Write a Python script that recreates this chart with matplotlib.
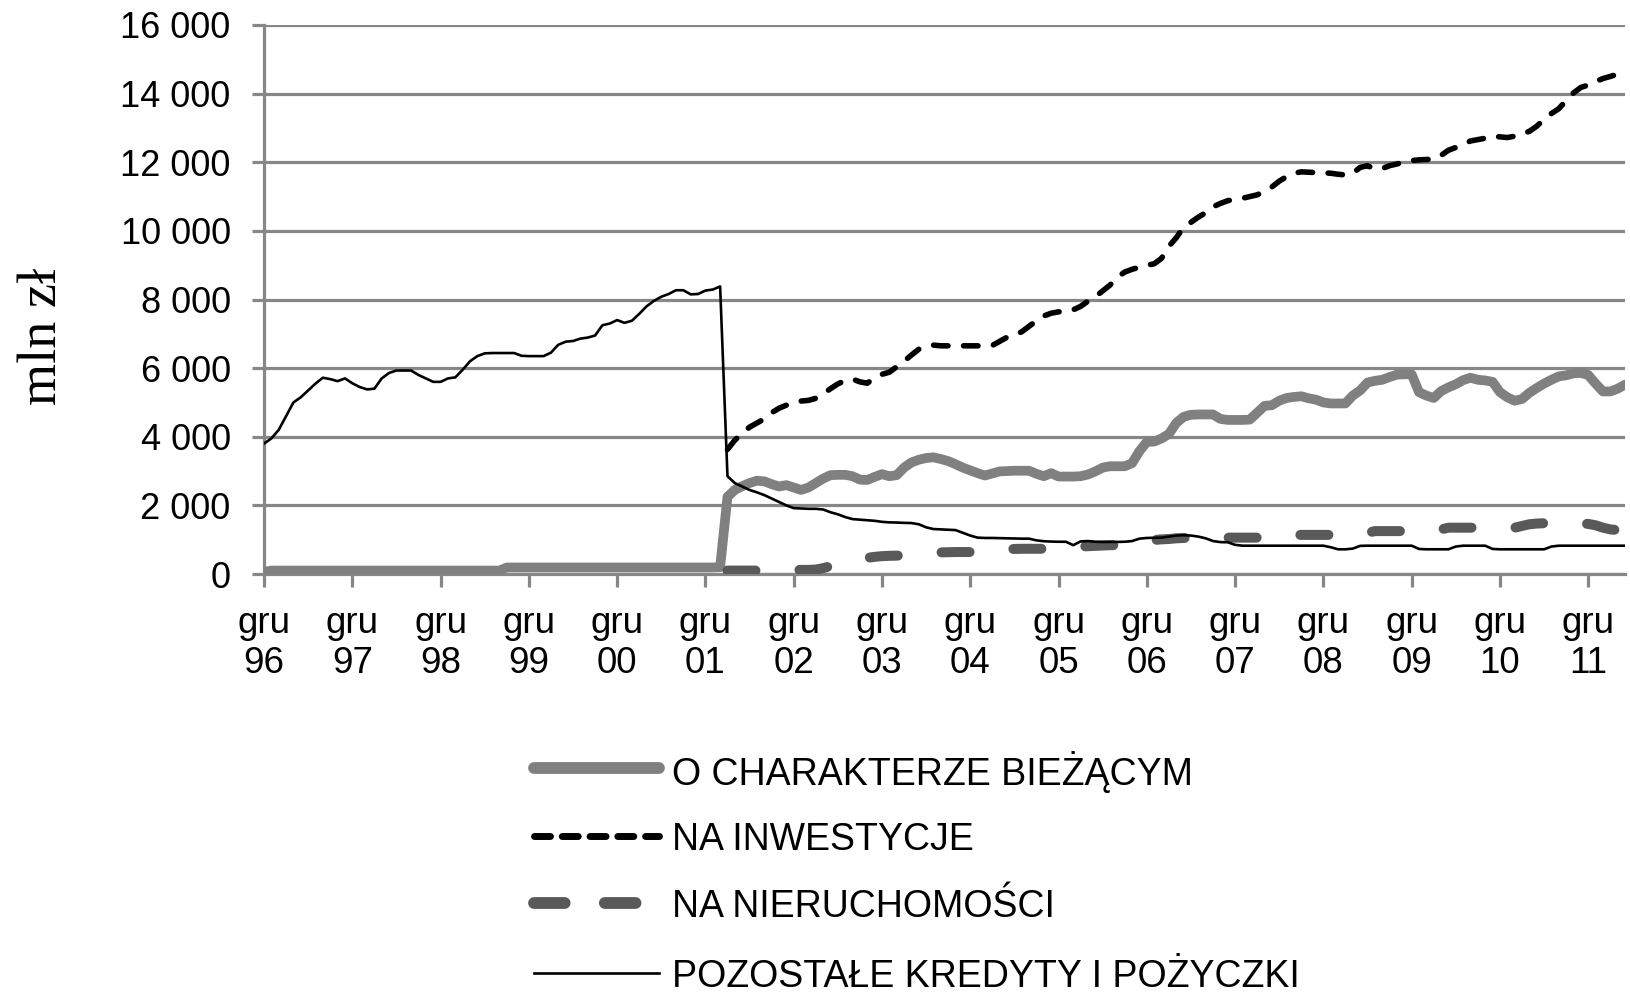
import numpy as np
import pandas as pd
import matplotlib
matplotlib.use("Agg")
import matplotlib.pyplot as plt
from matplotlib.lines import Line2D

# ---------------- data (mln zł, monthly, Dec 1996 .. May 2012) ----------------
months = pd.period_range("1996-12", "2012-05", freq="M")

pozostale = [
    3800, 3950, 4200, 4600, 5000, 5150, 5350, 5550, 5720, 5680, 5620, 5700,
    5560, 5450, 5380, 5400, 5700, 5860, 5930, 5930, 5930, 5800, 5700, 5600,
    5600, 5700, 5730, 5950, 6200, 6350, 6430, 6440, 6440, 6440, 6440, 6360,
    6350, 6350, 6350, 6450, 6680, 6770, 6790, 6860, 6890, 6950, 7250, 7300,
    7400, 7320, 7380, 7580, 7800, 7960, 8080, 8160, 8270, 8270, 8150, 8160,
    8260, 8290, 8380, 2850, 2650, 2550, 2450, 2380, 2300, 2200, 2100, 2000,
    1920, 1910, 1900, 1900, 1880, 1800, 1740, 1660, 1600, 1584, 1570, 1550,
    1520, 1505, 1500, 1490, 1485, 1450, 1360, 1310, 1300, 1290, 1280, 1200,
    1120, 1060, 1050, 1050, 1045, 1040, 1035, 1030, 1030, 980, 955, 945,
    940, 940, 840, 950, 960, 940, 935, 935, 935, 940, 960, 1030,
    1050, 1055, 1060, 1090, 1120, 1130, 1120, 1090, 1040, 960, 930, 925,
    850, 825, 825, 825, 825, 825, 825, 825, 825, 825, 825, 825,
    825, 780, 720, 720, 740, 820, 825, 825, 825, 825, 825, 825,
    825, 730, 720, 720, 720, 720, 800, 825, 825, 825, 825, 730,
    720, 720, 720, 720, 720, 720, 720, 800, 825, 825, 825, 825,
    825, 825, 825, 825, 825, 825,
]

biezacym = [
    60, 100, 100, 100, 100, 100, 100, 100, 100, 100, 100, 100,
    100, 100, 100, 100, 100, 100, 100, 100, 100, 100, 100, 100,
    100, 100, 100, 100, 100, 100, 100, 100, 100, 190, 190, 190,
    190, 190, 190, 190, 190, 190, 190, 190, 190, 190, 190, 190,
    190, 190, 190, 190, 190, 190, 190, 190, 190, 190, 190, 190,
    190, 190, 200, 2250, 2450, 2560, 2650, 2720, 2700, 2620, 2550, 2590,
    2520, 2450, 2520, 2650, 2780, 2880, 2890, 2890, 2850, 2750, 2740, 2830,
    2910, 2850, 2880, 3100, 3250, 3330, 3380, 3400, 3350, 3290, 3200, 3100,
    3020, 2940, 2870, 2930, 2990, 3000, 3010, 3010, 3010, 2920, 2850, 2940,
    2840, 2840, 2840, 2850, 2900, 2990, 3100, 3140, 3140, 3140, 3230, 3580,
    3850, 3860, 3950, 4080, 4400, 4580, 4640, 4650, 4650, 4650, 4520, 4490,
    4490, 4490, 4500, 4700, 4900, 4920, 5050, 5130, 5160, 5180, 5120, 5080,
    5000, 4970, 4970, 4970, 5200, 5350, 5580, 5630, 5660, 5740, 5810, 5820,
    5820, 5300, 5200, 5130, 5330, 5440, 5530, 5650, 5720, 5660, 5640, 5600,
    5300, 5150, 5050, 5100, 5280, 5420, 5550, 5660, 5760, 5790, 5850, 5860,
    5800, 5550, 5320, 5320, 5400, 5520,
]

inwestycje = [None] * 63 + [
    3630, 3900, 4100, 4280, 4400, 4520, 4700, 4830, 4920,
    4990, 5040, 5060, 5120, 5250, 5400, 5540, 5640, 5680, 5600, 5560, 5720,
    5820, 5880, 6040, 6200, 6380, 6550, 6640, 6670, 6650, 6650, 6650, 6650,
    6650, 6650, 6650, 6660, 6780, 6900, 6960, 7060, 7220, 7380, 7520, 7600,
    7640, 7640, 7700, 7800, 7950, 8080, 8250, 8420, 8650, 8800, 8880, 8940,
    9000, 9040, 9200, 9550, 9800, 10100, 10250, 10400, 10530, 10700, 10800, 10880,
    10920, 10950, 11000, 11050, 11150, 11280, 11450, 11580, 11680, 11720, 11710, 11700,
    11690, 11680, 11650, 11630, 11680, 11850, 11900, 11800, 11820, 11900, 11950, 12010,
    12050, 12070, 12080, 12090, 12200, 12350, 12430, 12530, 12620, 12660, 12700, 12760,
    12740, 12720, 12760, 12830, 12900, 13050, 13250, 13420, 13560, 13800, 14020, 14180,
    14250, 14350, 14440, 14500, 14570, 14700,
]

nieruchomosci = [None] * 63 + [
    100, 100, 100, 100, 100, 100, 100, 100, 100,
    110, 120, 120, 130, 170, 230, 300, 380, 430, 460, 470, 500,
    520, 530, 535, 540, 540, 560, 600, 620, 630, 635, 640, 640,
    640, 640, 640, 660, 700, 720, 730, 735, 735, 735, 735, 750,
    770, 780, 790, 800, 810, 820, 830, 840, 840, 850, 860, 880,
    940, 990, 1010, 1020, 1040, 1050, 1060, 1060, 1060, 1060, 1060, 1060,
    1060, 1060, 1060, 1060, 1060, 1060, 1060, 1100, 1140, 1140, 1140, 1140,
    1140, 1140, 1140, 1140, 1140, 1140, 1200, 1250, 1250, 1250, 1250, 1250,
    1250, 1250, 1250, 1250, 1300, 1350, 1350, 1350, 1350, 1350, 1350, 1350,
    1350, 1350, 1350, 1400, 1450, 1470, 1480, 1480, 1480, 1480, 1480, 1470,
    1460, 1420, 1350, 1300, 1280, 1250,
]

series_labels = [
    "O CHARAKTERZE BIEŻĄCYM",
    "NA INWESTYCJE",
    "NA NIERUCHOMOŚCI",
    "POZOSTAŁE KREDYTY I POŻYCZKI",
]
year_labels = ["96", "97", "98", "99", "00", "01", "02", "03",
               "04", "05", "06", "07", "08", "09", "10", "11"]
y_ticks = [0, 2000, 4000, 6000, 8000, 10000, 12000, 14000, 16000]

# ---------------- figure ----------------
W, H = 1630, 993
fig = plt.figure(figsize=(W / 100, H / 100), dpi=100)
ax = fig.add_axes([264 / W, 1 - 574 / H, (1625 - 264) / W, (574 - 25) / H])

x = np.array([(p - months[0]).n for p in months], dtype=float)

def arr(v):
    return np.array([np.nan if a is None else a for a in v], dtype=float)

GRID = "#878787"
styles = [
    dict(color="#808080", lw=7.0, solid_capstyle="round", solid_joinstyle="round"),
    dict(color="black", lw=4.0, linestyle=(0, (2.6, 2.8)), dash_capstyle="round",
         dash_joinstyle="round"),
    dict(color="#595959", lw=7.2, linestyle=(0, (2.8, 4.4)), dash_capstyle="round",
         dash_joinstyle="round"),
    dict(color="black", lw=1.9, solid_joinstyle="round"),
]
legend_styles = [
    dict(color="#808080", lw=8.5, solid_capstyle="round"),
    dict(color="black", lw=5.0, linestyle=(0, (2.3, 1.7)), dash_capstyle="round"),
    dict(color="#595959", lw=8.5, linestyle=(0, (2.6, 3.4)), dash_capstyle="round"),
    dict(color="black", lw=1.9),
]
data = [biezacym, inwestycje, nieruchomosci, pozostale]
for d, st, lab in zip(data, styles, series_labels):
    ax.plot(x, arr(d), label=lab, zorder=3, **st)

ax.set_xlim(0, x[-1])
ax.set_ylim(0, 16000)

ax.set_yticks(y_ticks)
ax.set_yticklabels([f"{v:,}".replace(",", " ") for v in y_ticks])
xt = [12 * i for i in range(len(year_labels))]
ax.set_xticks(xt)
ax.set_xticklabels([f"gru\n{y}" for y in year_labels], linespacing=1.2)

for lbl in ax.get_yticklabels():
    lbl.set_fontfamily("Liberation Sans")
    lbl.set_fontsize(26)
for lbl in ax.get_xticklabels():
    lbl.set_fontfamily("Liberation Sans")
    lbl.set_fontsize(26.5)

ax.grid(axis="y", color=GRID, lw=2.3, zorder=1)
ax.set_axisbelow(True)
for s in ["top", "right"]:
    ax.spines[s].set_visible(False)
for s in ["left", "bottom"]:
    ax.spines[s].set_color(GRID)
    ax.spines[s].set_linewidth(2.3)
ax.tick_params(axis="y", direction="out", length=9, width=2.3, color=GRID, pad=15)
ax.tick_params(axis="x", direction="out", length=9, width=2.3, color=GRID, pad=14)

fig.text(43 / W, 1 - 336 / H, "mln zł", rotation=90, ha="center", va="center",
         fontsize=39, family="Liberation Serif")

# ---------------- legend (below the plot) ----------------
rows_y = [768, 836, 903, 973]
for st, lab, yy in zip(legend_styles, series_labels, rows_y):
    yf = 1 - yy / H
    ln = Line2D([534 / W, 659 / W], [yf, yf], transform=fig.transFigure, **st)
    fig.add_artist(ln)
    fig.text(672 / W, yf, lab, ha="left", va="center_baseline", fontsize=27,
             family="Liberation Sans")

fig.savefig("out.png", dpi=100)
